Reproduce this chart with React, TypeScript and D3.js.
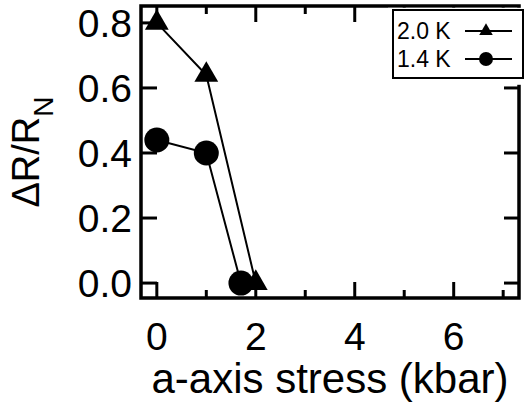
import React, { useRef, useEffect } from 'react';
import * as d3 from 'd3';

// data
const stress2K = [0, 1, 2];
const dr2K = [0.8, 0.64, 0.0];
const stress14K = [0, 1, 1.7];
const dr14K = [0.44, 0.4, 0.0];
const seriesLabels = ['2.0 K', '1.4 K'];
const xTicks = [0, 2, 4, 6];
const xMinorTicks = [1, 3, 5, 7];
const yTicks = [0.0, 0.2, 0.4, 0.6, 0.8];

const App = () => {
  const svgRef = useRef<SVGSVGElement>(null);

  useEffect(() => {
    const width = 527;
    const height = 408;
    const left = 141, right = 519, top = 6, bottom = 298;
    const font = '"Liberation Sans", Arial, Helvetica, sans-serif';

    const xScale = d3.scaleLinear().domain([-0.34, 7.34]).range([140, 520]);
    const yScale = d3.scaleLinear().domain([-0.049, 0.852]).range([299, 6]);

    const svg = d3.select(svgRef.current)
      .attr('width', width)
      .attr('height', height);

    svg.selectAll('*').remove();

    svg.append('rect').attr('width', width).attr('height', height).attr('fill', 'white');

    const series = [
      { x: stress2K, y: dr2K, shape: 'tri' },
      { x: stress14K, y: dr14K, shape: 'circ' },
    ];

    // lines
    const line = d3.line<[number, number]>()
      .x(d => xScale(d[0]))
      .y(d => yScale(d[1]));
    series.forEach(s => {
      const pts = s.x.map((v, i) => [v, s.y[i]] as [number, number]);
      svg.append('path')
        .attr('d', line(pts))
        .attr('fill', 'none')
        .attr('stroke', 'black')
        .attr('stroke-width', 2);
    });

    // ticks (inward, all four sides)
    const tick = (x1: number, y1: number, x2: number, y2: number) =>
      svg.append('line')
        .attr('x1', x1).attr('y1', y1).attr('x2', x2).attr('y2', y2)
        .attr('stroke', 'black').attr('stroke-width', 3);

    xTicks.forEach(t => {
      tick(xScale(t), bottom, xScale(t), bottom - 16);
      tick(xScale(t), top, xScale(t), top + 16);
    });
    xMinorTicks.forEach(t => {
      tick(xScale(t), bottom, xScale(t), bottom - 8);
      tick(xScale(t), top, xScale(t), top + 8);
    });
    yTicks.forEach(t => {
      tick(left, yScale(t), left + 16, yScale(t));
      tick(right, yScale(t), right - 15, yScale(t));
    });

    // frame
    svg.append('rect')
      .attr('x', left).attr('y', top)
      .attr('width', right - left).attr('height', bottom - top)
      .attr('fill', 'none').attr('stroke', 'black').attr('stroke-width', 3.5);

    // markers
    const tri = d3.symbol().type(d3.symbolTriangle).size(245);
    series.forEach(s => {
      s.x.forEach((v, i) => {
        if (s.shape === 'tri') {
          svg.append('path')
            .attr('d', tri())
            .attr('transform', `translate(${xScale(v)},${yScale(s.y[i])})`)
            .attr('fill', 'black');
        } else {
          svg.append('circle')
            .attr('cx', xScale(v)).attr('cy', yScale(s.y[i]))
            .attr('r', 12.5).attr('fill', 'black');
        }
      });
    });

    // tick labels
    svg.append('g').selectAll('text')
      .data(yTicks)
      .enter().append('text')
      .attr('x', 132)
      .attr('y', d => yScale(d))
      .attr('dy', '0.36em')
      .attr('text-anchor', 'end')
      .style('font-family', font)
      .style('font-size', '39px')
      .text(d => d.toFixed(1));

    svg.append('g').selectAll('text')
      .data(xTicks)
      .enter().append('text')
      .attr('x', d => xScale(d))
      .attr('y', 350)
      .attr('text-anchor', 'middle')
      .style('font-family', font)
      .style('font-size', '39px')
      .text(d => String(d));

    // axis titles
    svg.append('text')
      .attr('x', 330).attr('y', 393)
      .attr('text-anchor', 'middle')
      .style('font-family', font)
      .style('font-size', '42px')
      .text('a-axis stress (kbar)');

    const yt = svg.append('text')
      .attr('transform', 'translate(39,152) rotate(-90)')
      .attr('text-anchor', 'middle')
      .style('font-family', font)
      .style('font-size', '38px');
    yt.append('tspan').text('ΔR/R');
    yt.append('tspan').attr('dy', 14).style('font-size', '28px').text('N');

    // legend
    svg.append('rect')
      .attr('x', 388).attr('y', 7.8).attr('width', 139).attr('height', 77)
      .attr('fill', 'white');
    svg.append('rect')
      .attr('x', 393).attr('y', 10).attr('width', 130).attr('height', 68)
      .attr('fill', 'white').attr('stroke', 'black').attr('stroke-width', 2);

    const legTri = d3.symbol().type(d3.symbolTriangle).size(80);
    seriesLabels.forEach((lab, i) => {
      const cy = 31 + i * 28;
      svg.append('text')
        .attr('x', 397).attr('y', cy + 8)
        .style('font-family', font)
        .style('font-size', '23px')
        .text(lab);
      svg.append('line')
        .attr('x1', 465).attr('x2', 512).attr('y1', cy).attr('y2', cy)
        .attr('stroke', 'black').attr('stroke-width', 2);
      if (i === 0) {
        svg.append('path').attr('d', legTri())
          .attr('transform', `translate(486,${cy})`).attr('fill', 'black');
      } else {
        svg.append('circle').attr('cx', 486).attr('cy', cy).attr('r', 7).attr('fill', 'black');
      }
    });
  }, []);

  return (
    <svg ref={svgRef} style={{ position: 'absolute', left: 0, top: 0 }}></svg>
  );
};

export default App;
